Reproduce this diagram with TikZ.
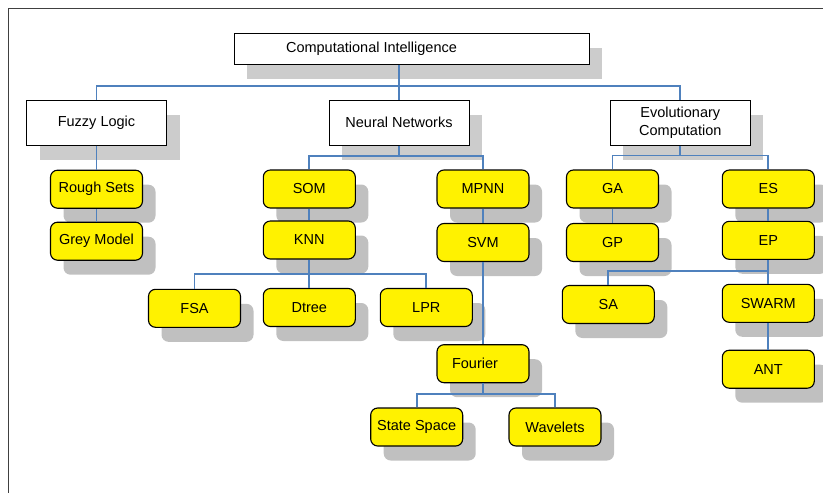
\documentclass[tikz,border=0pt]{standalone}
\usepackage{fontspec}
\setmainfont{Liberation Sans}
\usetikzlibrary{shadows}
\definecolor{linkblue}{HTML}{4F81BD}
\definecolor{boxshade}{HTML}{CCCCCC}
\definecolor{leafshade}{HTML}{C0C0C0}
\definecolor{framegray}{HTML}{404040}
\begin{document}
\begin{tikzpicture}[x=1pt,y=-1pt,
    every node/.style={font=\fontsize{14.5}{17.5}\selectfont,inner sep=1pt,align=center},
    topic/.style={draw,fill=white,line width=1pt,minimum width=140pt,minimum height=45pt,
      general shadow={fill=boxshade,shadow xshift=13pt,shadow yshift=-14.5pt}},
    leaf/.style={draw,fill=yellow,line width=1.1pt,rounded corners=7pt,minimum width=92pt,minimum height=38pt,
      general shadow={fill=leafshade,shadow xshift=13pt,shadow yshift=-14.5pt}},
    link/.style={draw=linkblue,line width=1.8pt}]
  \useasboundingbox (0,0) rectangle (823,493);
  \draw[framegray,line width=1.5pt] (8.5,493) -- (8.5,8.5) -- (823,8.5);
  \node[topic,minimum width=355pt,minimum height=31pt] (ci) at (411.5,48.5) {Computational Intelligence\hspace{80pt}};
  \node[topic] (fuzzy) at (96.5,122.7) {Fuzzy Logic};
  \node[topic] (neural) at (399,122.7) {Neural Networks};
  \node[topic] (evo) at (680.3,122.7) {Evolutionary\\Computation};
  \node[leaf] (rough) at (96.5,189.2) {Rough Sets};
  \node[leaf] (grey) at (96.5,241.2) {Grey Model};
  \node[leaf] (som) at (309.3,189) {SOM};
  \node[leaf] (knn) at (309.3,240) {KNN};
  \node[leaf] (mpnn) at (483,189) {MPNN};
  \node[leaf] (svm) at (483,242.5) {SVM};
  \node[leaf] (ga) at (612.5,189) {GA};
  \node[leaf] (gp) at (612.5,242.5) {GP};
  \node[leaf] (es) at (768.3,189) {ES};
  \node[leaf] (ep) at (768.3,240.3) {EP};
  \node[leaf] (fsa) at (194.5,308.3) {FSA};
  \node[leaf] (dtree) at (309.3,307.5) {Dtree};
  \node[leaf] (lpr) at (426.3,307.5) {LPR};
  \node[leaf] (sa) at (608.3,304.5) {SA};
  \node[leaf] (swarm) at (768.3,303.3) {SWARM};
  \node[leaf] (fourier) at (483,363.7) {Fourier\hspace{16pt}};
  \node[leaf] (state) at (416.7,427) {State Space};
  \node[leaf] (wave) at (555,427) {Wavelets};
  \node[leaf] (ant) at (768.3,369.2) {ANT};
  \coordinate (cibus) at (399,86.3);
  \coordinate (nnbus) at (399,155.7);
  \coordinate (evobus) at (680.3,155.5);
  \coordinate (knnbus) at (309.3,274);
  \coordinate (epbus) at (768.3,271.3);
  \coordinate (fourierbus) at (483,394.3);
  \draw[link] (ci.south -| cibus) -- (neural.north) (fuzzy.north) |- (cibus) -| (evo.north);
  \draw[link] (neural.south) -- (nnbus) (som.north) |- (nnbus) -| (mpnn.north);
  \draw[link] (evo.south) -- (evobus) (ga.north) |- (evobus) -| (es.north);
  \draw[link] (fuzzy) -- (rough) (rough) -- (grey) (som) -- (knn) (mpnn) -- (svm) (ga) -- (gp) (es) -- (ep);
  \draw[link] (knn) -- (dtree) (fsa.north) |- (knnbus) -| (lpr.north);
  \draw[link] (ep) -- (swarm) (sa.north) |- (epbus) (swarm) -- (ant);
  \draw[link] (svm) -- (fourier.north -| svm) (fourier.south -| fourierbus) -- (fourierbus) (state.north) |- (fourierbus) -| (wave.north);
\end{tikzpicture}
\end{document}
